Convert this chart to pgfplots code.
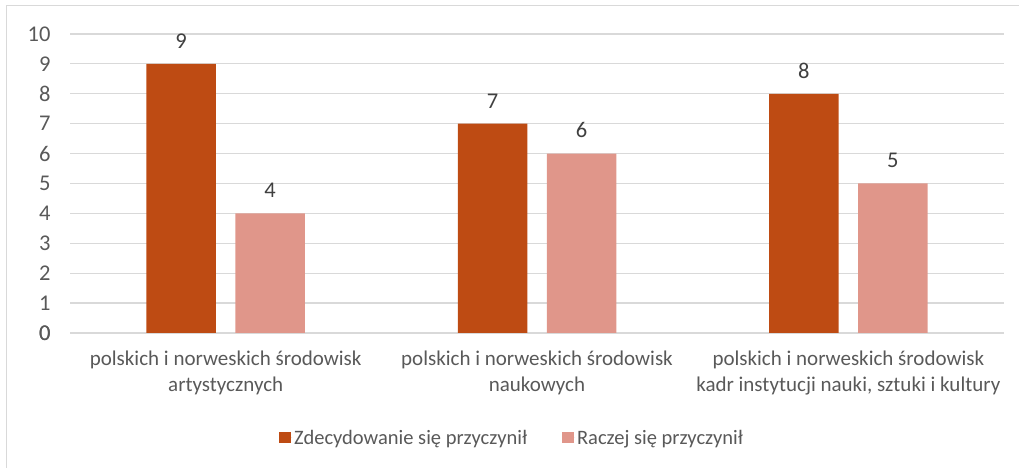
\documentclass[border=0pt]{standalone}
\usepackage{pgfplots}
\pgfplotsset{compat=1.18}
\usepackage{fontspec}
\setmainfont{Carlito}
\definecolor{darkor}{HTML}{BE4B13}
\definecolor{lightor}{HTML}{E0968A}
\definecolor{txt}{HTML}{595959}
\definecolor{lbl}{HTML}{404040}
\definecolor{gridc}{HTML}{D9D9D9}
\begin{document}
\begin{tikzpicture}
\useasboundingbox (0,0) rectangle (1019bp,468bp);
\draw[gridc, line width=1.2bp] (6.5bp,0bp) -- (6.5bp,462.5bp) -- (1019bp,462.5bp);
\begin{axis}[
  at={(70bp,135bp)}, anchor=south west,
  scale only axis, width=934bp, height=299bp,
  ymin=0, ymax=10, ytick distance=1,
  xmin=-0.5, xmax=2.5, xtick={0,1,2},
  xticklabels={{polskich i norweskich środowisk\\artystycznych},
               {polskich i norweskich środowisk\\naukowych},
               {polskich i norweskich środowisk\\kadr instytucji nauki, sztuki i kultury}},
  xticklabel style={align=center, font=\fontsize{21bp}{26bp}\selectfont, text=txt, yshift=-14bp},
  yticklabel style={font=\fontsize{22.5bp}{26bp}\selectfont, text=txt, xshift=-16bp},
  /pgf/number format/assume math mode=true,
  ymajorgrids, grid style={gridc, line width=1.2bp},
  axis line style={draw=none},
  extra y ticks={0}, extra y tick style={grid style={gridc, line width=1.2bp}},
  major tick length=0pt,
  ybar, bar width=69.5bp,
  nodes near coords,
  nodes near coords style={font=\fontsize{22.5bp}{26bp}\selectfont, text=lbl, yshift=12bp},
  legend columns=2,
  legend style={at={(0.5,-0.35)}, anchor=center, draw=none, xshift=-25bp,
    font=\fontsize{20.5bp}{26bp}\selectfont, text=txt,
    /tikz/every even column/.append style={column sep=33bp}},
  legend image code/.code={\fill[#1] (0bp,-5.75bp) rectangle (11.5bp,5.75bp); \path (0bp,0bp) -- (13bp,0bp);},
]
\addplot[fill=darkor, draw=none, bar shift=-44.5bp] coordinates {(0,9) (1,7) (2,8)};
\addplot[fill=lightor, draw=none, bar shift=44.5bp] coordinates {(0,4) (1,6) (2,5)};
\legend{Zdecydowanie się przyczynił, Raczej się przyczynił}
\end{axis}
\end{tikzpicture}
\end{document}
